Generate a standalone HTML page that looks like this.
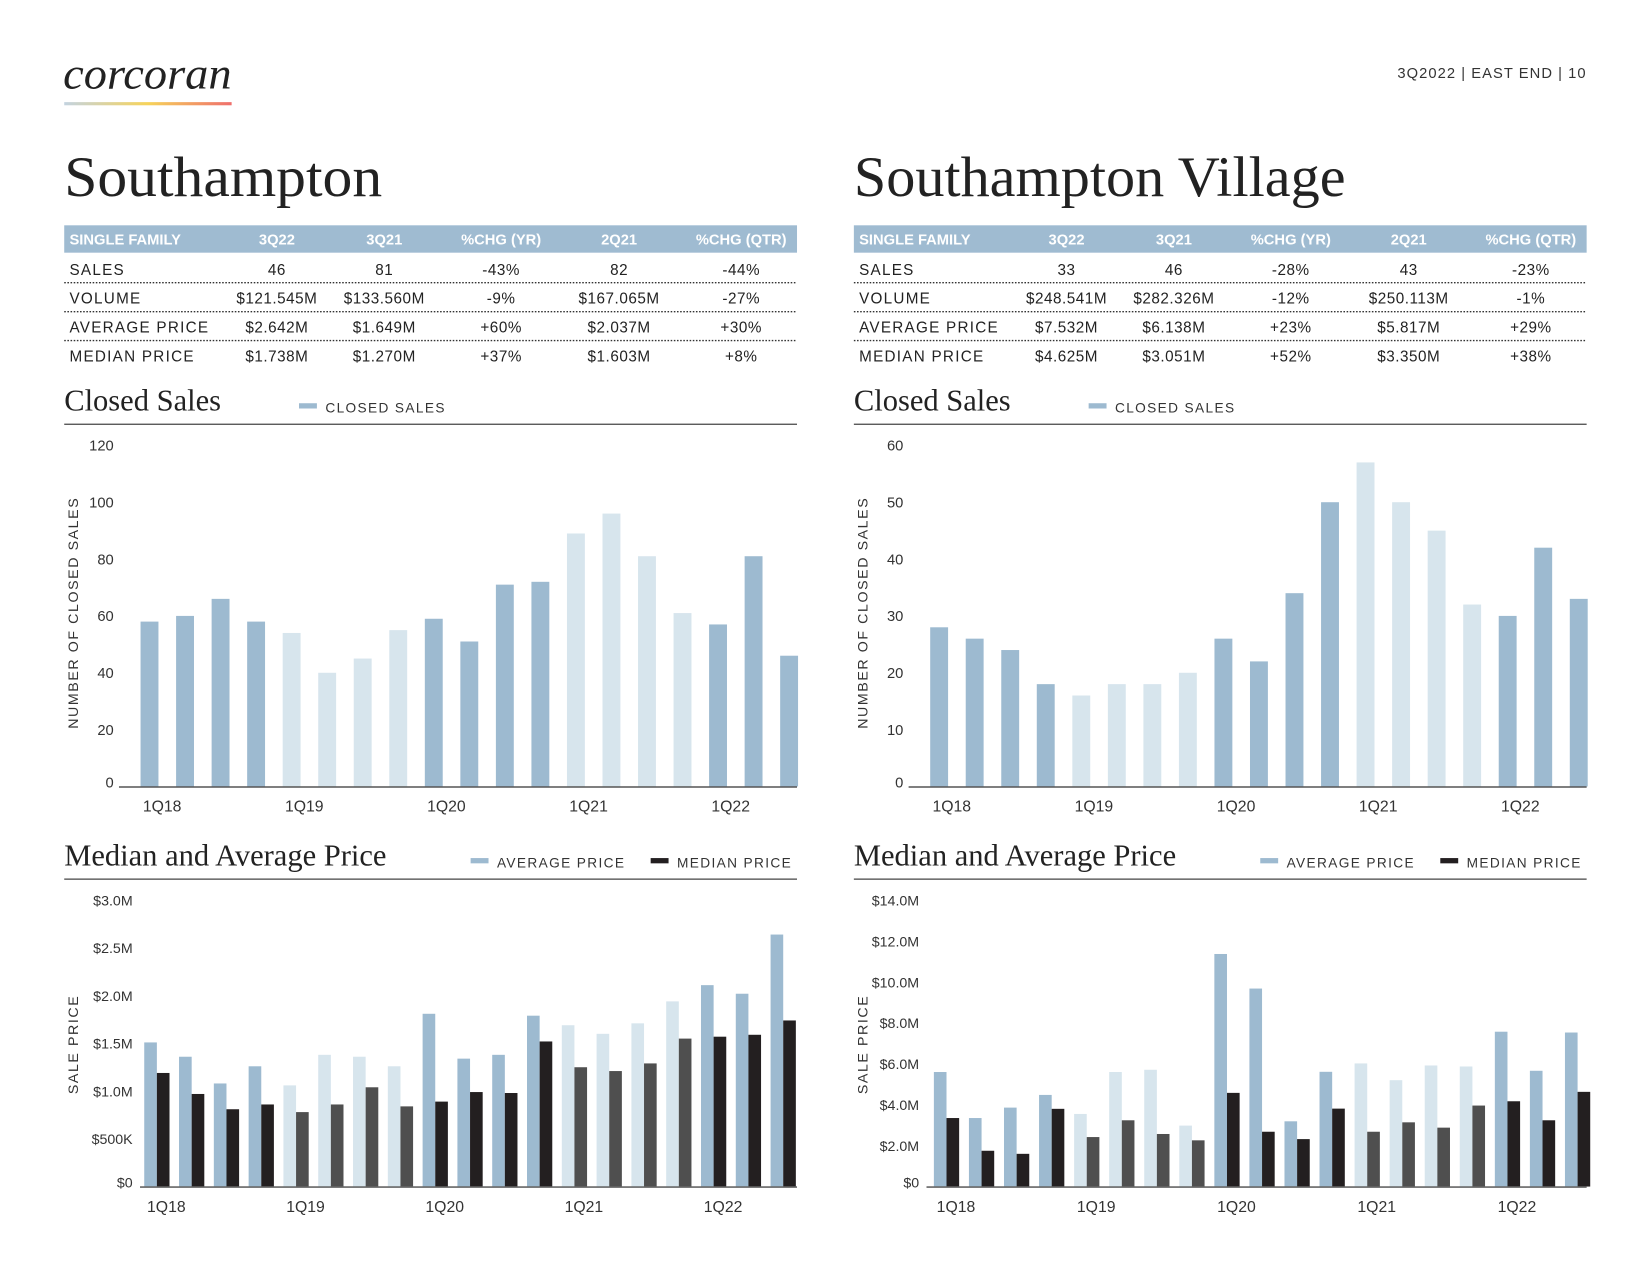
<!DOCTYPE html>
<html><head><meta charset="utf-8"><style>
html,body{margin:0;padding:0;background:#fff;width:1650px;height:1275px;overflow:hidden}
svg{display:block}
.sans{font-family:"Liberation Sans",sans-serif}
.serif{font-family:"Liberation Serif",serif}
</style></head><body>
<svg id="page" width="1650" height="1275" viewBox="0 0 1567 1211" preserveAspectRatio="xMinYMin meet" xmlns="http://www.w3.org/2000/svg">
<defs><linearGradient id="lg" x1="0" x2="1"><stop offset="0" stop-color="#c3d3e0"/><stop offset="0.5" stop-color="#f6d35a"/><stop offset="1" stop-color="#ef6f6c"/></linearGradient></defs>
<text x="60" y="84" class="serif" font-style="italic" font-size="42" fill="#222" textLength="160" lengthAdjust="spacingAndGlyphs">corcoran</text>
<rect x="61" y="97" width="159" height="3" fill="url(#lg)"/>
<text x="1507" y="74" text-anchor="end" class="sans" font-size="14" letter-spacing="1" fill="#333">3Q2022  |  EAST END  |  10</text>
<text x="61" y="186" class="serif" font-size="54" fill="#222" textLength="302" lengthAdjust="spacingAndGlyphs">Southampton</text>
<text x="811" y="186" class="serif" font-size="54" fill="#222" textLength="467" lengthAdjust="spacingAndGlyphs">Southampton Village</text>
<g id="tables"></g>
<g id="charts"></g>
</svg>
<script>
// ---- data ----
const quarters = ['1Q18','2Q18','3Q18','4Q18','1Q19','2Q19','3Q19','4Q19','1Q20','2Q20','3Q20','4Q20','1Q21','2Q21','3Q21','4Q21','1Q22','2Q22','3Q22'];
const salesLeft = [58,60,66,58,54,40,45,55,59,51,71,72,89,96,81,61,57,81,46];
const salesRight = [28,26,24,18,16,18,18,20,26,22,34,50,57,50,45,32,30,42,33];
const avgLeft = [1.51,1.36,1.08,1.26,1.06,1.38,1.36,1.26,1.81,1.34,1.38,1.79,1.69,1.60,1.71,1.94,2.11,2.02,2.64];
const medLeft = [1.19,0.97,0.81,0.86,0.78,0.86,1.04,0.84,0.89,0.99,0.98,1.52,1.25,1.21,1.29,1.55,1.57,1.59,1.74];
const avgRight = [5.6,3.35,3.86,4.48,3.55,5.6,5.71,2.98,11.37,9.68,3.19,5.61,6.02,5.2,5.92,5.87,7.57,5.66,7.53];
const medRight = [3.35,1.75,1.6,3.8,2.42,3.24,2.57,2.26,4.58,2.68,2.32,3.81,2.68,3.14,2.88,3.96,4.17,3.24,4.63];
const salesTicksLeft = [0,20,40,60,80,100,120];
const salesTicksRight = [0,10,20,30,40,50,60];
const priceTicksLeft = [0,0.5,1,1.5,2,2.5,3];
const priceTickLabelsLeft = ['$0','$500K','$1.0M','$1.5M','$2.0M','$2.5M','$3.0M'];
const priceTicksRight = [0,2,4,6,8,10,12,14];
const priceTickLabelsRight = ['$0','$2.0M','$4.0M','$6.0M','$8.0M','$10.0M','$12.0M','$14.0M'];
const tableHeads = ['SINGLE FAMILY','3Q22','3Q21','%CHG (YR)','2Q21','%CHG (QTR)'];
const tableRowsLeft = [['SALES','46','81','-43%','82','-44%'],['VOLUME','$121.545M','$133.560M','-9%','$167.065M','-27%'],['AVERAGE PRICE','$2.642M','$1.649M','+60%','$2.037M','+30%'],['MEDIAN PRICE','$1.738M','$1.270M','+37%','$1.603M','+8%']];
const tableRowsRight = [['SALES','33','46','-28%','43','-23%'],['VOLUME','$248.541M','$282.326M','-12%','$250.113M','-1%'],['AVERAGE PRICE','$7.532M','$6.138M','+23%','$5.817M','+29%'],['MEDIAN PRICE','$4.625M','$3.051M','+52%','$3.350M','+38%']];

const NS='http://www.w3.org/2000/svg';
function mk(parent,tag,attrs,text){const e=document.createElementNS(NS,tag);for(const k in attrs)e.setAttribute(k,attrs[k]);if(text!==undefined)e.textContent=text;parent.appendChild(e);return e;}
const DARK='#9dbad0',LIGHT='#d7e5ed',MDARK='#231f20',MLIGHT='#4f4f4f';
const isDarkYear=i=>Math.floor(i/4)%2===0;

// ---- tables ----
const tg=document.getElementById('tables');
function table(ox,rows,name){
  const g=mk(tg,'g',{});
  
  
  const hdr=mk(g,'rect',{x:ox,y:214,width:696,height:26,fill:'#9fbbd1'});
  
  
  const cols=[5,202,304,415,527,643];
  tableHeads.forEach((h,j)=>{const t=mk(g,'text',{x:ox+cols[j],y:232,'font-size':14,'font-weight':'bold',fill:'#fff','class':'sans','text-anchor':j?'middle':'start'},h);
    
    });
  rows.forEach((r,i)=>{const y=261+i*27.5;
    r.forEach((c,j)=>{const t=mk(g,'text',{x:ox+cols[j],y:y,'font-size':14.5,'letter-spacing':j?0.5:1.2,fill:'#222','class':'sans','text-anchor':j?'middle':'start'},c);
      
      });
    if(i<3){const l=mk(g,'line',{x1:ox,x2:ox+696,y1:y+7.5,y2:y+7.5,stroke:'#333','stroke-width':1.3,'stroke-dasharray':'1.5 1.5'});
      
      }
  });
}
table(61,tableRowsLeft,'summary-table-southampton');
table(811,tableRowsRight,'summary-table-village');

// ---- charts ----
const cg=document.getElementById('charts');
function header(ox,y,title,legends,name){
  const t=mk(cg,'text',{x:ox,y:y,'class':'serif','font-size':29,fill:'#222'},title);
  
  
  legends.forEach(l=>{const r=mk(cg,'rect',{x:ox+l[0],y:y-7,width:17,height:5,fill:l[2]});
    
    
    const tx=mk(cg,'text',{x:ox+l[0]+25,y:y+2,'class':'sans','font-size':13,'letter-spacing':1.3,fill:'#333'},l[1]);
    
    });
  const ln=mk(cg,'line',{x1:ox,x2:ox+696,y1:y+13,y2:y+13,stroke:'#444','stroke-width':1.2});
  
  
}
function yTitle(x,y,txt){const t=mk(cg,'text',{x:0,y:0,transform:`translate(${x},${y}) rotate(-90)`,'text-anchor':'middle','class':'sans','font-size':13.5,'letter-spacing':1.5,fill:'#333'},txt);
  
  }

function salesChart(ox,values,ticks,max,name){
  const y0=747,h=324,x0=ox+81,step=33.75;
  const ys=v=>y0-v/max*h, xs=i=>x0+i*step;
  ticks.forEach(t=>{const e=mk(cg,'text',{x:ox+47,y:ys(t)+(t===0?1:5),'text-anchor':'end','class':'sans','font-size':14,fill:'#333'},String(t));
    
    });
  values.forEach((v,i)=>{const r=mk(cg,'rect',{x:xs(i)-8.5,y:ys(v),width:17,height:y0-ys(v),fill:isDarkYear(i)?DARK:LIGHT});
    
    });
  const ax=mk(cg,'line',{x1:ox+52,x2:ox+696,y1:y0+0.5,y2:y0+0.5,stroke:'#555','stroke-width':1.5});
  
  
  quarters.forEach((q,i)=>{if(i%4===0){const e=mk(cg,'text',{x:xs(i)+12,y:771,'text-anchor':'middle','class':'sans','font-size':15,fill:'#333'},q);
    
    }});
}
function priceChart(ox,avg,med,ticks,labels,max,axStart,x0,step,name){
  const y0=1127,h=272;
  const ys=v=>y0-v/max*h, xs=i=>x0+i*step;
  ticks.forEach((t,k)=>{const e=mk(cg,'text',{x:axStart-7,y:ys(t)+(t===0?1:5),'text-anchor':'end','class':'sans','font-size':13.5,fill:'#333'},labels[k]);
    
    });
  quarters.forEach((q,i)=>{const d=isDarkYear(i);
    const a=mk(cg,'rect',{x:xs(i)-12,y:ys(avg[i]),width:12,height:y0-ys(avg[i]),fill:d?DARK:LIGHT});
    
    
    const m=mk(cg,'rect',{x:xs(i),y:ys(med[i]),width:12,height:y0-ys(med[i]),fill:d?MDARK:MLIGHT});
    
    });
  const ax=mk(cg,'line',{x1:axStart,x2:ox+696,y1:y0+0.5,y2:y0+0.5,stroke:'#666','stroke-width':1.5});
  
  
  quarters.forEach((q,i)=>{if(i%4===0){const e=mk(cg,'text',{x:xs(i)+9,y:1151,'text-anchor':'middle','class':'sans','font-size':15,fill:'#333'},q);
    
    }});
}
[[61,'Southampton',salesLeft,salesTicksLeft,120,avgLeft,medLeft,priceTicksLeft,priceTickLabelsLeft,3,133,149,33.05],
 [811,'Village',salesRight,salesTicksRight,60,avgRight,medRight,priceTicksRight,priceTickLabelsRight,14,880,899,33.3]].forEach(c=>{
  const [ox,nm]=c;
  header(ox,390,'Closed Sales',[[223,'CLOSED SALES',DARK]],'closed-sales');
  yTitle(ox+13,582,'NUMBER OF CLOSED SALES');
  salesChart(ox,c[2],c[3],c[4],nm);
  header(ox,822,'Median and Average Price',[[386,'AVERAGE PRICE',DARK],[557,'MEDIAN PRICE',MDARK]],'price');
  yTitle(ox+13,992,'SALE PRICE');
  priceChart(ox,c[5],c[6],c[7],c[8],c[9],c[10],c[11],c[12],nm);
});
</script>
</body></html>
